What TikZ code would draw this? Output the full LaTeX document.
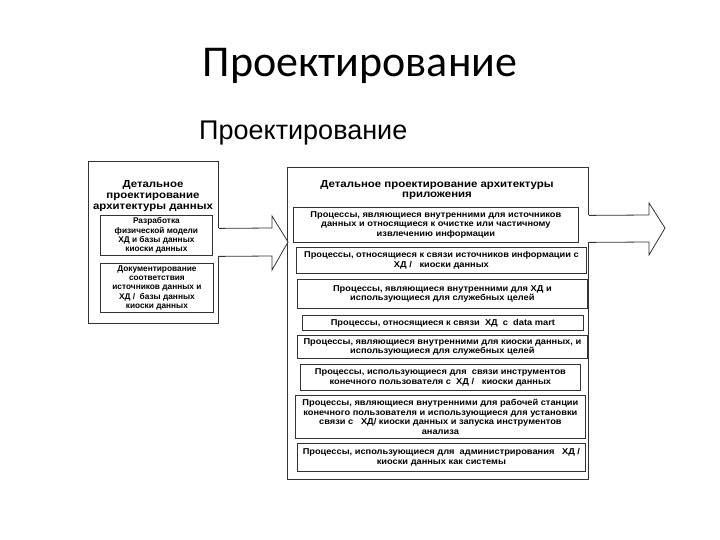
\documentclass[tikz,border=0pt]{standalone}
\usepackage{fontspec}
\setmainfont{Liberation Sans}
\newfontfamily\titlefont{Carlito}
\newfontfamily\widefont[FakeStretch=1.12]{Liberation Sans}
\newfontfamily\inwidefont[FakeStretch=1.09]{Liberation Sans}
\begin{document}
\begin{tikzpicture}[x=1pt,y=-1pt,
  frame/.style={draw=black!80,line width=0.8pt,anchor=north west,inner sep=0pt},
  inbox/.style={draw=black!80,line width=0.8pt,anchor=north west,inner sep=0pt,align=center,font=\inwidefont\fontsize{8.5}{9.4}\selectfont\bfseries},
  linbox/.style={inbox,font=\fontsize{8.3}{9.1}\selectfont\bfseries},
  headtxt/.style={align=center,font=\widefont\fontsize{10.2}{10.8}\selectfont\bfseries,inner sep=0pt},
  bigarrow/.style={draw=black!80,line width=0.8pt,fill=white,line join=miter}]
\useasboundingbox (0,0) rectangle (720,540);
\node[font=\titlefont\fontsize{44}{46}\selectfont] (title) at (360,66) {Проектирование};
\node[font=\fontsize{27}{29}\selectfont,anchor=west,inner sep=0pt] (sub) at (199,133) {Проектирование};
% left block
\node[frame,minimum width=130,minimum height=162] (L) at (88,161) {};
\node[headtxt] (Lh) at (153,196) {Детальное\\проектирование\\архитектуры данных};
\node[linbox,minimum width=112,minimum height=40] (L1) at (100,215) {Разработка\\физической модели\\ХД и базы данных\\киоски данных};
\node[linbox,minimum width=113,minimum height=49] (L2) at (100,263) {Документирование\\соответствия\\источников данных и\\ХД / \ базы данных\\киоски данных};
% right block
\node[frame,minimum width=301,minimum height=312] (R) at (287,167) {};
\node[headtxt] (Rh) at (437,190) {Детальное проектирование архитектуры\\приложения};
\node[inbox,minimum width=285,minimum height=35] (R1) at (293,207) {Процессы, являющиеся внутренними для источников\\данных и относящиеся к очистке или частичному\\извлечению информации};
\node[inbox,minimum width=290,minimum height=26] (R2) at (296,247) {Процессы, относящиеся к связи источников информации с\\ХД / \ \ киоски данных};
\node[inbox,minimum width=290,minimum height=29] (R3) at (297,279) {Процессы, являющиеся внутренними для ХД и\\использующиеся для служебных целей};
\node[inbox,minimum width=281,minimum height=15] (R4) at (302,315) {Процессы, относящиеся к связи \ ХД \ с \ data mart};
\node[inbox,minimum width=290,minimum height=23] (R5) at (297,335) {Процессы, являющиеся внутренними для киоски данных, и\\использующиеся для служебных целей};
\node[inbox,minimum width=280,minimum height=26] (R6) at (300,364) {Процессы, использующиеся для \ связи инструментов\\конечного пользователя с \ ХД / \ \ киоски данных};
\node[inbox,minimum width=290,minimum height=43] (R7) at (295,395) {Процессы, являющиеся внутренними для рабочей станции\\конечного пользователя и использующиеся для установки\\связи с \ \ ХД/ киоски данных и запуска инструментов\\анализа};
\node[inbox,minimum width=288,minimum height=28] (R8) at (297,443) {Процессы, использующиеся для \ администрирования \ \ ХД /\\киоски данных как системы};
% arrows
\coordinate (a1) at ([yshift=14]L.east);
\coordinate (a2) at ([yshift=-14]L.east);
\fill[white] ([xshift=-1]a1) rectangle ([xshift=2]a2);
\draw[bigarrow] (a1) -- (272,228) -- (272,216) -- (288,242) -- (272,270) -- (272,256) -- (a2);
\coordinate (b1) at ([yshift=108]R.east);
\coordinate (b2) at ([yshift=81]R.east);
\fill[white] ([xshift=-1]b1) rectangle ([xshift=1]b2);
\draw[bigarrow] (b1) -- (649,215) -- (649,203) -- (665,228) -- (649,255) -- (649,242) -- (b2);
\end{tikzpicture}
\end{document}
